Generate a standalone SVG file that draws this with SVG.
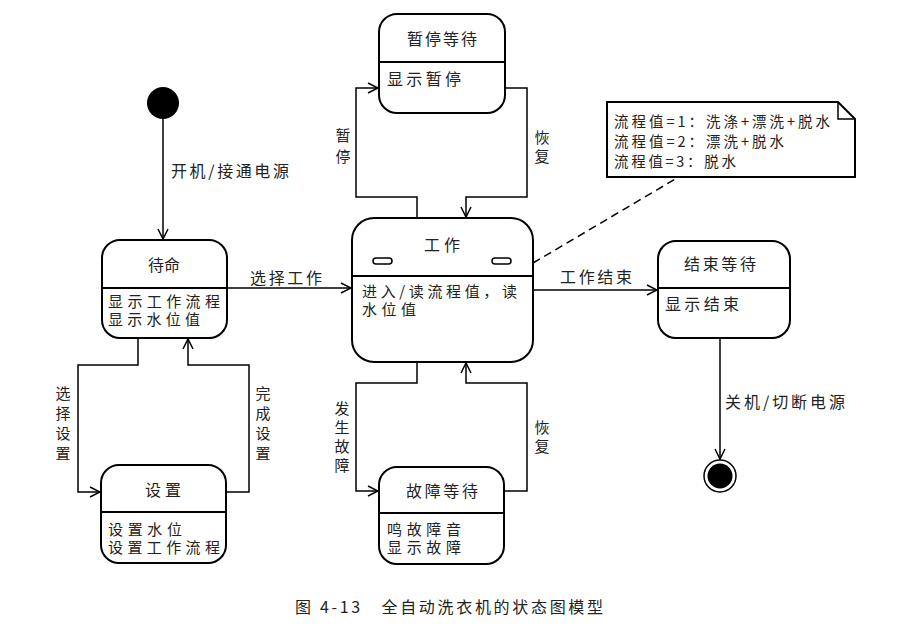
<svg xmlns="http://www.w3.org/2000/svg" width="919" height="633" viewBox="0 0 919 633">
<style>
.box{fill:#fff;stroke:#000;stroke-width:2}
.div{stroke:#000;stroke-width:2}
.t{font-family:"Noto Sans CJK SC","Liberation Sans",sans-serif;font-size:16px;fill:#222}
.b{font-family:"Noto Sans CJK SC","Liberation Sans",sans-serif;font-size:15px;fill:#222}
.n{font-family:"Noto Sans CJK SC","Liberation Sans",sans-serif;font-size:14.5px;fill:#222}
.c{fill:none;stroke:#000;stroke-width:1.5}
.m{text-anchor:middle}
</style>
<defs>
<marker id="a" viewBox="0 0 12 12" refX="11" refY="6" markerWidth="12" markerHeight="12" markerUnits="userSpaceOnUse" orient="auto">
<path d="M1,1 L11,6 L1,11" fill="none" stroke="#000" stroke-width="1.5"/>
</marker>
</defs>
<rect width="919" height="633" fill="#fff"/>

<g id="connectors">
<line class="c" x1="163" y1="118" x2="163" y2="239" marker-end="url(#a)"/>
<line class="c" x1="227" y1="288" x2="351" y2="288" marker-end="url(#a)"/>
<polyline class="c" points="417,218 417,197 356,197 356,88 378,88" marker-end="url(#a)"/>
<polyline class="c" points="505,88 527,88 527,197 466,197 466,217" marker-end="url(#a)"/>
<polyline class="c" points="417,362 417,383 356,383 356,491 378,491" marker-end="url(#a)"/>
<polyline class="c" points="504,491 527,491 527,383 466,383 466,363" marker-end="url(#a)"/>
<polyline class="c" points="138,338 138,365 78,365 78,492 100,492" marker-end="url(#a)"/>
<polyline class="c" points="226,492 249,492 249,365 188,365 188,339" marker-end="url(#a)"/>
<line class="c" x1="533" y1="290" x2="657" y2="290" marker-end="url(#a)"/>
<line class="c" x1="720" y1="338" x2="720" y2="459" marker-end="url(#a)"/>
<line class="c" x1="533" y1="263" x2="677" y2="178" stroke-dasharray="8,5"/>
<text class="t" x="250" y="284" textLength="72">选择工作</text>
<text class="t" x="560" y="283" textLength="72">工作结束</text>
<text class="t" x="171" y="177" textLength="118">开机/接通电源</text>
<text class="t" x="725" y="408" textLength="120">关机/切断电源</text>
<text class="b m"><tspan x="343" y="141">暂</tspan><tspan x="343" y="162">停</tspan></text>
<text class="b m"><tspan x="542" y="143">恢</tspan><tspan x="542" y="162">复</tspan></text>
<text class="b m"><tspan x="63" y="399">选</tspan><tspan x="63" y="419">择</tspan><tspan x="63" y="439">设</tspan><tspan x="63" y="459">置</tspan></text>
<text class="b m"><tspan x="263" y="399">完</tspan><tspan x="263" y="419">成</tspan><tspan x="263" y="439">设</tspan><tspan x="263" y="459">置</tspan></text>
<text class="b m"><tspan x="342" y="414">发</tspan><tspan x="342" y="433">生</tspan><tspan x="342" y="452">故</tspan><tspan x="342" y="471">障</tspan></text>
<text class="b m"><tspan x="542" y="433">恢</tspan><tspan x="542" y="452">复</tspan></text>
</g>

<g id="initial">
<circle cx="163" cy="103" r="16" fill="#000"/>
</g>

<g id="final">
<circle cx="720" cy="476" r="16" fill="#fff" stroke="#000" stroke-width="1.5"/>
<circle cx="720" cy="476" r="12.5" fill="#000"/>
</g>

<g id="pause">
<rect class="box" x="379" y="14" width="126" height="99" rx="18"/>
<line class="div" x1="379" y1="62" x2="505" y2="62"/>
<text class="t m" x="442" y="45" textLength="70">暂停等待</text>
<text class="t" x="387" y="85" textLength="74">显示暂停</text>
</g>

<g id="standby">
<rect class="box" x="102" y="240" width="125" height="98" rx="18"/>
<line class="div" x1="102" y1="288" x2="227" y2="288"/>
<text class="t m" x="164" y="271">待命</text>
<text class="b" x="108" y="307" textLength="112">显示工作流程</text>
<text class="b" x="108" y="325" textLength="92">显示水位值</text>
</g>

<g id="work">
<rect class="box" x="352" y="218" width="181" height="144" rx="22"/>
<line class="div" x1="352" y1="276" x2="533" y2="276"/>
<text class="t m" x="442" y="251" textLength="36">工作</text>
<rect x="373" y="258" width="19" height="6" rx="3" fill="#fff" stroke="#000" stroke-width="1.5"/>
<rect x="492" y="258" width="19" height="6" rx="3" fill="#fff" stroke="#000" stroke-width="1.5"/>
<text class="b" x="362" y="297" textLength="155">进入/读流程值，读</text>
<text class="b" x="362" y="315" textLength="54">水位值</text>
</g>

<g id="end-wait">
<rect class="box" x="658" y="241" width="132" height="97" rx="18"/>
<line class="div" x1="658" y1="288" x2="790" y2="288"/>
<text class="t m" x="720" y="270" textLength="72">结束等待</text>
<text class="t" x="665" y="310" textLength="74">显示结束</text>
</g>

<g id="setting">
<rect class="box" x="101" y="465" width="125" height="98" rx="18"/>
<line class="div" x1="101" y1="512" x2="226" y2="512"/>
<text class="t m" x="163" y="496" textLength="36">设置</text>
<text class="b" x="108" y="535" textLength="74">设置水位</text>
<text class="b" x="108" y="553" textLength="112">设置工作流程</text>
</g>

<g id="fault-wait">
<rect class="box" x="379" y="467" width="125" height="97" rx="18"/>
<line class="div" x1="379" y1="513" x2="504" y2="513"/>
<text class="t m" x="442" y="497" textLength="72">故障等待</text>
<text class="b" x="387" y="535" textLength="74">鸣故障音</text>
<text class="b" x="387" y="553" textLength="74">显示故障</text>
</g>

<g id="note">
<path d="M607,102 L838,102 L855,119 L855,177 L607,177 Z" fill="#fff" stroke="#000" stroke-width="2"/>
<path d="M838,102 L838,119 L855,119" fill="none" stroke="#000" stroke-width="1.5"/>
<text class="n" x="614" y="127" textLength="216">流程值=1：洗涤+漂洗+脱水</text>
<text class="n" x="614" y="147" textLength="170">流程值=2：漂洗+脱水</text>
<text class="n" x="614" y="167" textLength="122">流程值=3：脱水</text>
</g>

<text class="t" x="295" y="613" textLength="308">图 4-13　全自动洗衣机的状态图模型</text>
</svg>
